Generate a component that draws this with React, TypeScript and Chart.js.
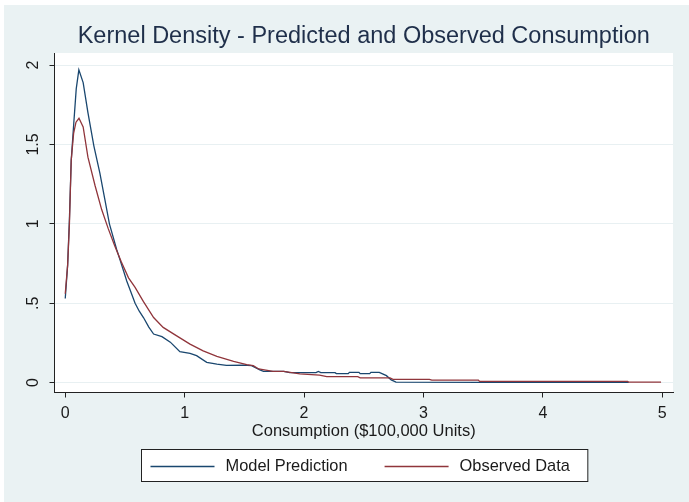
import React, { useEffect, useRef } from "react";
import { Chart, registerables } from "chart.js";

Chart.register(...registerables);

// ---- Data ----
const chartTitle = "Kernel Density - Predicted and Observed Consumption";
const xAxisTitle = "Consumption ($100,000 Units)";
const seriesLabels = ["Model Prediction", "Observed Data"];

const xTickValues = [0, 1, 2, 3, 4, 5];
const xTickLabels = ["0", "1", "2", "3", "4", "5"];
const yTickValues = [0, 0.5, 1, 1.5, 2];
const yTickLabels = ["0", ".5", "1", "1.5", "2"];

const predX = [0.0, 0.02, 0.035, 0.05, 0.072, 0.092, 0.114, 0.15, 0.19, 0.24, 0.29, 0.33, 0.37, 0.43, 0.46, 0.49, 0.515, 0.545, 0.585, 0.62, 0.655, 0.70, 0.74, 0.81, 0.88, 0.96, 1.045, 1.10, 1.185, 1.27, 1.35, 1.49, 1.56, 1.63, 1.66, 1.83, 1.88, 2.10, 2.12, 2.14, 2.26, 2.27, 2.37, 2.38, 2.46, 2.47, 2.55, 2.56, 2.63, 2.69, 2.73, 2.77, 3.5, 4.72];
const predY = [0.53, 0.74, 1.03, 1.40, 1.64, 1.85, 1.97, 1.89, 1.70, 1.49, 1.32, 1.16, 1.0, 0.84, 0.77, 0.70, 0.64, 0.58, 0.50, 0.45, 0.41, 0.35, 0.306, 0.29, 0.255, 0.195, 0.185, 0.17, 0.128, 0.117, 0.109, 0.111, 0.107, 0.08, 0.071, 0.071, 0.063, 0.063, 0.071, 0.063, 0.063, 0.057, 0.057, 0.065, 0.065, 0.057, 0.057, 0.065, 0.065, 0.044, 0.017, 0.003, 0.002, 0.002];

const obsX = [0.0, 0.02, 0.035, 0.05, 0.07, 0.09, 0.115, 0.15, 0.19, 0.25, 0.305, 0.36, 0.415, 0.47, 0.53, 0.585, 0.655, 0.74, 0.82, 0.93, 1.045, 1.155, 1.27, 1.41, 1.52, 1.575, 1.62, 1.74, 1.83, 1.965, 2.13, 2.19, 2.45, 2.47, 2.72, 2.745, 3.05, 3.07, 3.46, 3.47, 4.71, 4.72, 4.99];
const obsY = [0.56, 0.74, 1.0, 1.40, 1.57, 1.64, 1.665, 1.61, 1.42, 1.24, 1.09, 0.97, 0.86, 0.76, 0.66, 0.60, 0.51, 0.41, 0.348, 0.296, 0.243, 0.20, 0.166, 0.134, 0.113, 0.107, 0.086, 0.071, 0.071, 0.055, 0.048, 0.038, 0.038, 0.03, 0.03, 0.021, 0.021, 0.016, 0.016, 0.008, 0.008, 0.003, 0.003];

// ---- Styles ----
const FONT = "Arial, 'Liberation Sans', sans-serif";
const BG = "#eaf2f3";
const GRID = "#e8f0f2";
const AXIS = "#222222";
const TEXT = "#1a1a1a";
const TITLE_COLOR = "#1f2f4a";
const BLUE = "#1a476f";
const RED = "#90353b";

const bgPlugin = {
  id: "stataBackground",
  beforeDraw(chart: any) {
    const { ctx, width, height, chartArea } = chart;
    ctx.save();
    ctx.fillStyle = "#ffffff";
    ctx.fillRect(0, 0, width, height);
    ctx.fillStyle = BG;
    ctx.fillRect(4, 5, width - 4, height - 5);
    ctx.fillStyle = "#ffffff";
    ctx.fillRect(chartArea.left, chartArea.top, chartArea.right - chartArea.left, chartArea.bottom - chartArea.top);
    ctx.restore();
  },
};

const legendPlugin = {
  id: "stataLegend",
  afterDraw(chart: any) {
    const { ctx, chartArea } = chart;
    const xs = chart.scales.x;
    const ds = chart.data.datasets;
    const cx = (chartArea.left + chartArea.right) / 2;
    ctx.save();
    ctx.font = `16.4px ${FONT}`;
    const lineLen = 64, gapLT = 11, gapItems = 37, padL = 9, padR = 18;
    const widths = ds.map((d: any) => ctx.measureText(d.label).width);
    const boxW = padL + ds.length * (lineLen + gapLT) + widths.reduce((a: number, b: number) => a + b, 0) + gapItems * (ds.length - 1) + padR;
    const boxH = 32;
    const boxL = Math.round(cx - boxW / 2) + 0.5;
    const boxT = Math.round(xs.bottom + 6) + 0.5;
    ctx.fillStyle = "#ffffff";
    ctx.fillRect(boxL, boxT, boxW, boxH);
    ctx.strokeStyle = AXIS;
    ctx.lineWidth = 1;
    ctx.strokeRect(boxL, boxT, boxW, boxH);
    const midY = boxT + boxH / 2 + 1;
    let x = boxL + padL;
    ds.forEach((d: any, i: number) => {
      ctx.strokeStyle = d.borderColor;
      ctx.lineWidth = 1.4;
      ctx.beginPath();
      ctx.moveTo(x, midY);
      ctx.lineTo(x + lineLen, midY);
      ctx.stroke();
      x += lineLen + gapLT;
      ctx.fillStyle = TEXT;
      ctx.textAlign = "left";
      ctx.textBaseline = "middle";
      ctx.fillText(d.label, x, midY - 0.5);
      x += widths[i] + gapItems;
    });
    ctx.restore();
  },
};

export default function App() {
  const canvasRef = useRef<HTMLCanvasElement | null>(null);

  useEffect(() => {
    const canvas = canvasRef.current;
    if (!canvas) return;
    const chart = new Chart(canvas, {
      type: "line",
      data: {
        datasets: [
          {
            label: seriesLabels[0],
            data: predX.map((x, i) => ({ x, y: predY[i] })),
            borderColor: BLUE,
            backgroundColor: BLUE,
            borderWidth: 1.3,
            pointRadius: 0,
            tension: 0,
            fill: false,
            order: 1,
          },
          {
            label: seriesLabels[1],
            data: obsX.map((x, i) => ({ x, y: obsY[i] })),
            borderColor: RED,
            backgroundColor: RED,
            borderWidth: 1.3,
            pointRadius: 0,
            tension: 0,
            fill: false,
            order: 0,
          },
        ],
      },
      options: {
        animation: false,
        responsive: false,
        maintainAspectRatio: false,
        devicePixelRatio: 1,
        layout: { padding: { top: 5, left: 4, right: 16, bottom: 59 } },
        plugins: {
          legend: { display: false },
          tooltip: { enabled: false },
          title: {
            display: true,
            text: chartTitle,
            fullSize: false,
            color: TITLE_COLOR,
            font: { family: FONT, size: 23.5, weight: "normal", lineHeight: 1.2 },
            padding: { top: 17.9, bottom: 1.9 },
          },
        },
        scales: {
          x: {
            type: "linear",
            min: -0.09,
            max: 5.09,
            afterBuildTicks: (s: any) => {
              s.ticks = xTickValues.map((v) => ({ value: v }));
            },
            afterFit: (s: any) => {
              s.height = 50.5;
            },
            ticks: {
              callback: (_v: any, i: number) => xTickLabels[i],
              font: { family: FONT, size: 16 },
              color: TEXT,
              padding: 6,
              minRotation: 0,
              maxRotation: 0,
            },
            grid: { drawOnChartArea: false, drawTicks: true, tickLength: 5, tickColor: AXIS, tickWidth: 1 },
            border: { display: true, color: AXIS, width: 1 },
            title: {
              display: true,
              text: xAxisTitle,
              color: TEXT,
              font: { family: FONT, size: 16.5, lineHeight: 1.2 },
              padding: { top: 0, bottom: 1.5 },
            },
          },
          y: {
            type: "linear",
            min: -0.062,
            max: 2.076,
            afterBuildTicks: (s: any) => {
              s.ticks = yTickValues.map((v) => ({ value: v }));
            },
            afterFit: (s: any) => {
              s.width = 50.5;
            },
            ticks: {
              callback: (_v: any, i: number) => yTickLabels[i],
              font: { family: FONT, size: 16 },
              color: TEXT,
              padding: 5,
              minRotation: 90,
              maxRotation: 90,
              crossAlign: "center",
            },
            grid: { color: GRID, lineWidth: 1, drawTicks: true, tickLength: 5, tickColor: AXIS, tickWidth: 1 },
            border: { display: true, color: AXIS, width: 1 },
          },
        },
      },
      plugins: [bgPlugin, legendPlugin],
    } as any);
    return () => chart.destroy();
  }, []);

  return (
    <div style={{ position: "fixed", left: 0, top: 0, width: 689, height: 502 }}>
      <canvas ref={canvasRef} width={689} height={502} style={{ display: "block", width: 689, height: 502 }} />
    </div>
  );
}
